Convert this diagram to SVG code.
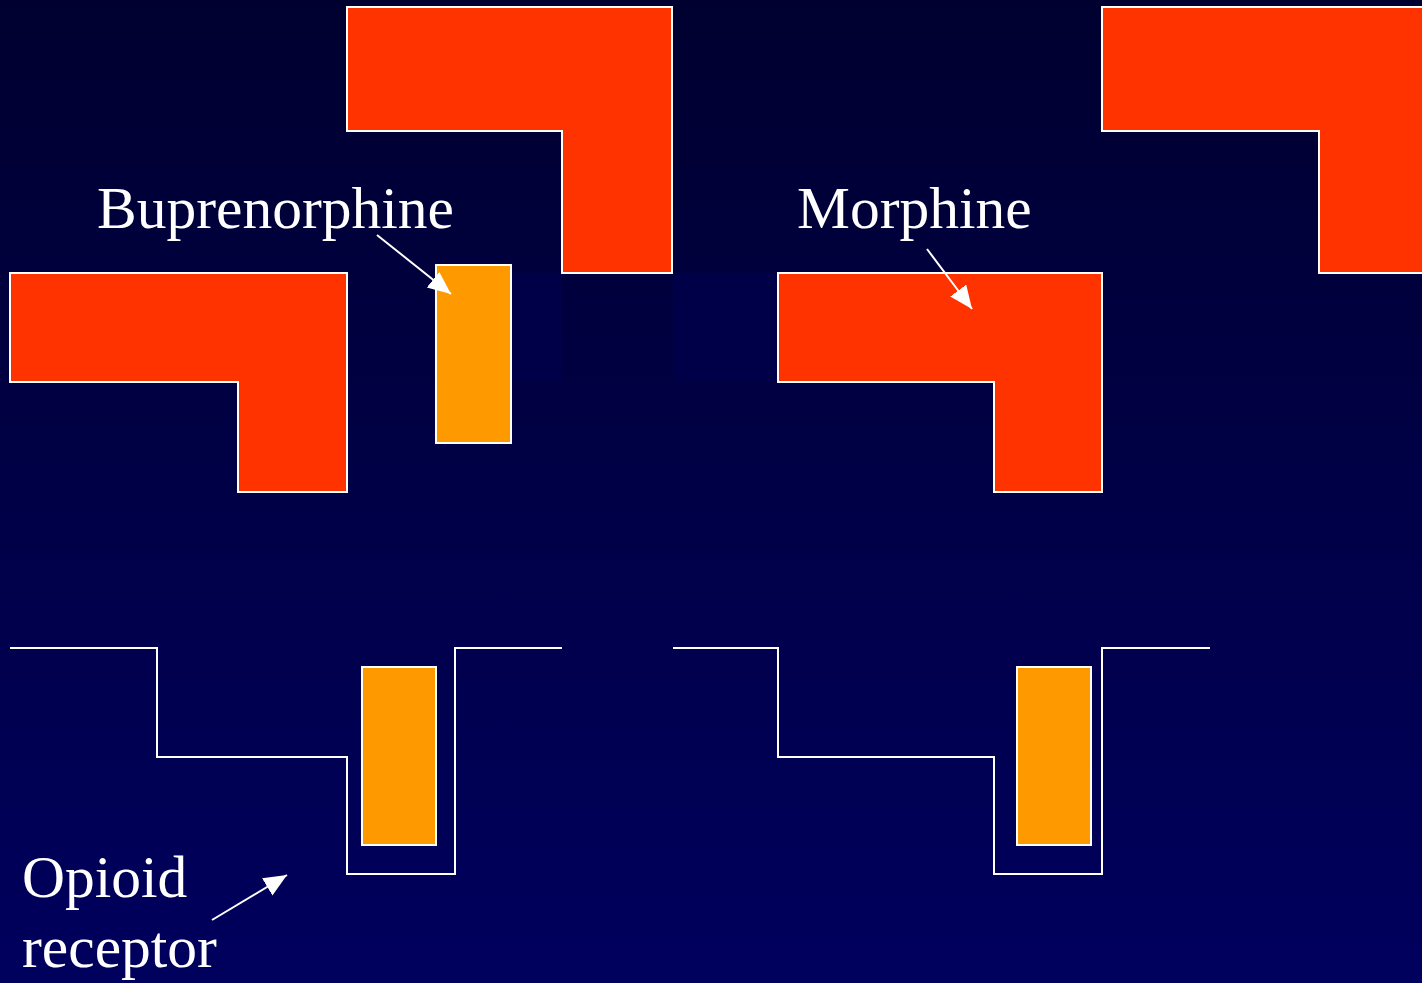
<svg xmlns="http://www.w3.org/2000/svg" width="1422" height="983" viewBox="0 0 1422 983">
<defs>
<linearGradient id="bg" x1="0" y1="0" x2="0" y2="1">
<stop offset="0" stop-color="#000030"/>
<stop offset="1" stop-color="#00005e"/>
</linearGradient>
<marker id="ah" markerUnits="userSpaceOnUse" markerWidth="26" markerHeight="22" refX="23" refY="10" orient="auto">
<path d="M0,0 L23,10 L0,20 Z" fill="#ffffff"/>
</marker>
<style>
.red{fill:#ff3300;stroke:#ffffff;stroke-width:2}
.org{fill:#ff9900;stroke:#ffffff;stroke-width:2}
.rec{fill:none;stroke:#ffffff;stroke-width:2}
.gap{fill:#000048}
.lbl{font-family:"Liberation Serif","Times New Roman",serif;font-size:59.5px;fill:#ffffff}
.arr{stroke:#ffffff;stroke-width:2;fill:none;marker-end:url(#ah)}
</style>
</defs>
<rect width="1422" height="983" fill="url(#bg)"/>
<rect class="gap" x="511" y="273" width="51" height="109"/>
<rect class="gap" x="673" y="273" width="105" height="109"/>
<g id="top-center-L"><polygon class="red" points="347,7 672,7 672,273 562,273 562,131 347,131"/></g>
<g id="top-right-L"><polygon class="red" points="1102,7 1424,7 1424,273 1319,273 1319,131 1102,131"/></g>
<g id="left-L"><polygon class="red" points="10,273 347,273 347,492 238,492 238,382 10,382"/></g>
<g id="morphine-L"><polygon class="red" points="778,273 1102,273 1102,492 994,492 994,382 778,382"/></g>
<g id="buprenorphine-block"><rect class="org" x="436" y="265" width="75" height="178"/></g>
<g id="receptor-left">
<polyline class="rec" points="10,648 157,648 157,757 347,757 347,874 455,874 455,648 562,648"/>
<rect class="org" x="362" y="667" width="74" height="178"/>
</g>
<g id="receptor-right">
<polyline class="rec" points="673,648 778,648 778,757 994,757 994,874 1102,874 1102,648 1210,648"/>
<rect class="org" x="1017" y="667" width="74" height="178"/>
</g>
<g id="labels">
<text class="lbl" x="97" y="228">Buprenorphine</text>
<text class="lbl" x="797" y="228">Morphine</text>
<text class="lbl" x="22" y="897">Opioid</text>
<text class="lbl" x="22" y="967">receptor</text>
</g>
<g id="connectors">
<line class="arr" x1="377" y1="235" x2="451" y2="294"/>
<line class="arr" x1="927" y1="249" x2="972" y2="309"/>
<line class="arr" x1="212" y1="920" x2="287" y2="875"/>
</g>
</svg>
